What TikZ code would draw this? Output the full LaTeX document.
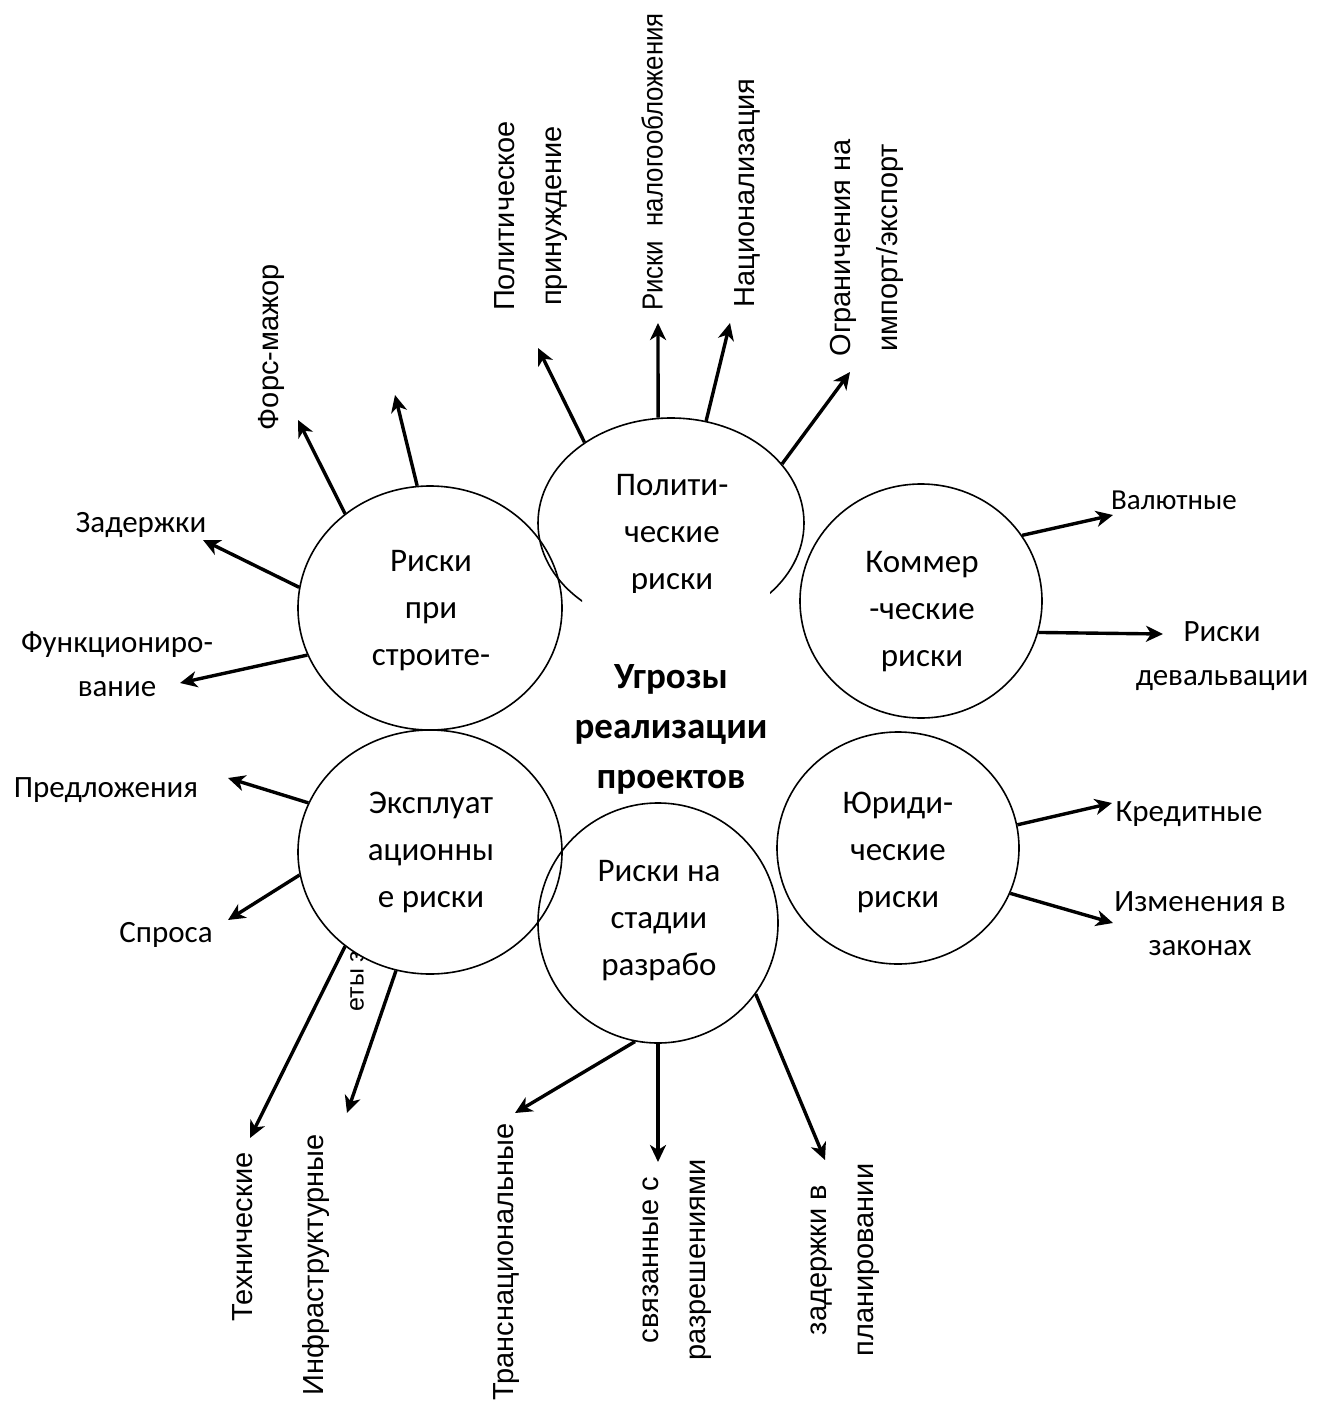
\documentclass[tikz,border=0pt]{standalone}
\usepackage{fontspec}
\setmainfont{Carlito}
\newfontfamily\vertfont{Liberation Sans}
\usetikzlibrary{positioning, shapes.geometric, arrows.meta}

\tikzset{
    bubble/.style={ellipse, draw, line width=1.6pt, inner sep=0pt},
    bubtext/.style={align=center, font=\fontsize{33}{47}\selectfont},
    lbl/.style={align=center, font=\fontsize{31}{44}\selectfont},
    vlbl/.style={rotate=90, align=center, font=\vertfont\fontsize{29}{47}\selectfont},
    arr/.style={-{Stealth[length=17pt, width=16pt, inset=5pt]}, line width=3.4pt},
}

\begin{document}
\begin{tikzpicture}[x=1pt, y=-1pt]
        \useasboundingbox (0,0) rectangle (1331,1407);

        %-----Groups of risks-----

        % label half hidden under the exploitation group
        \node[vlbl, font=\vertfont\fontsize{25}{30}\selectfont] (hidden) at (357,981) {еты з};

        % Construction
        \node[bubble, minimum width=264pt, minimum height=244pt] (build) at (430,608) {};
        \node[bubtext] (buildtxt) at (431,611) {Риски\\при\\строите-};

        % Exploitation
        \node[bubble, fill=white, minimum width=264pt, minimum height=244pt] (expl) at (430,852) {};
        \node[bubtext] (expltxt) at (431,852) {Эксплуат\\ационны\\е риски};

        % Commercial
        \node[bubble, minimum width=242pt, minimum height=234pt] (comm) at (921,601) {};
        \node[bubtext] (commtxt) at (922,612) {Коммер\\-ческие\\риски};

        % Legal
        \node[bubble, minimum width=242pt, minimum height=232pt] (legal) at (898,848) {};
        \node[bubtext] (legaltxt) at (898,852) {Юриди-\\ческие\\риски};

        % Development stage
        \node[bubble, minimum width=240pt, minimum height=240pt] (devel) at (658,923) {};
        \node[bubtext] (develtxt) at (659,921) {Риски на\\стадии\\разрабо};

        % Political (its lower part is hidden by the centre box)
        \begin{scope}
            \clip (0,0) -- (1331,0) -- (1331,1407) -- (770,1407) -- (770,592) -- (582,592) -- (582,1407) -- (0,1407) -- cycle;
            \node[bubble, minimum width=266pt, minimum height=210pt] (polit) at (671,523) {};
            \node[bubtext] (polittxt) at (672,535) {Полити-\\ческие\\риски};
        \end{scope}

        % Centre
        \node[align=center, font=\bfseries\fontsize{37}{50}\selectfont] (core) at (671,729) {Угрозы\\реализации\\проектов};

        %-----Free ends of the arrows-----
        \coordinate (zad) at (203,540);
        \coordinate (func) at (180,683);
        \coordinate (fors) at (298,420);
        \coordinate (up) at (395,395);
        \coordinate (prin) at (538,348);
        \coordinate (nalog) at (658,323);
        \coordinate (nats) at (730,323);
        \coordinate (ogr) at (850,372);
        \coordinate (val) at (1113,515);
        \coordinate (deval) at (1163,634);
        \coordinate (kred) at (1112,803);
        \coordinate (zakon) at (1113,923);
        \coordinate (pred) at (228,778);
        \coordinate (spros) at (228,920);
        \coordinate (tech) at (250,1138);
        \coordinate (infra) at (347,1113);
        \coordinate (trans) at (515,1113);
        \coordinate (razr) at (658,1162);
        \coordinate (plan) at (825,1160);

        %-----Arrows-----
        \draw[arr] (build.171) -- (zad);
        \draw[arr] (build.201) -- (func);
        \draw[arr] (build.132) -- (fors);
        \draw[arr] (build.96) -- (up);

        \draw[arr] (polit.137) -- (prin);
        \draw[arr] (polit.97) -- (nalog);
        \draw[arr] (polit.71) -- (nats);
        \draw[arr] (polit.28) -- (ogr);

        \draw[arr] (comm.33) -- (val);
        \draw[arr] (comm.345) -- (deval);

        \draw[arr] (legal.11) -- (kred);
        \draw[arr] (legal.338) -- (zakon);

        \draw[arr] (expl.158) -- (pred);
        \draw[arr] (expl.190) -- (spros);
        \draw[arr] (expl.228) -- (tech);
        \draw[arr] (expl.254) -- (infra);

        \draw[arr] (devel.259) -- (trans);
        \draw[arr] (devel.270) -- (razr);
        \draw[arr] (devel.324) -- (plan);

        %-----Labels-----
        \node[lbl] (zadtxt) at (141,525) {Задержки};
        \node[lbl] (functxt) at (117,664) {Функциониро-\\вание};
        \node[vlbl] (forstxt) at (271,347) {Форс-мажор};

        \node[vlbl] (printxt) at (531,216) {Политическое\\принуждение};
        \node[vlbl, font=\vertfont\addfontfeature{FakeStretch=0.89}\fontsize{29}{47}\selectfont] (nalogtxt) at (652,162) {Риски\ \ налогообложения};
        \node[vlbl] (natstxt) at (747,193) {Национализация};
        \node[vlbl] (ogrtxt) at (867,248) {Ограничения на\\импорт/экспорт};

        \node[lbl, font=\fontsize{29}{30}\selectfont] (valtxt) at (1174,500) {Валютные};
        \node[lbl] (devaltxt) at (1222,656) {Риски\\девальвации};

        \node[lbl] (kredtxt) at (1189,814) {Кредитные};
        \node[lbl] (zakontxt) at (1200,924) {Изменения в\\законах};

        \node[lbl] (predtxt) at (106,790) {Предложения};
        \node[lbl] (sprostxt) at (166,935) {Спроса};
        \node[vlbl] (techtxt) at (243,1237) {Технические};
        \node[vlbl] (infratxt) at (316,1265) {Инфраструктурные};

        \node[vlbl] (transtxt) at (507,1262) {Транснациональные};
        \node[vlbl] (razrtxt) at (677,1260) {связанные с\\разрешениями};
        \node[vlbl] (plantxt) at (845,1260) {задержки в\\планировании};

\end{tikzpicture}
\end{document}
